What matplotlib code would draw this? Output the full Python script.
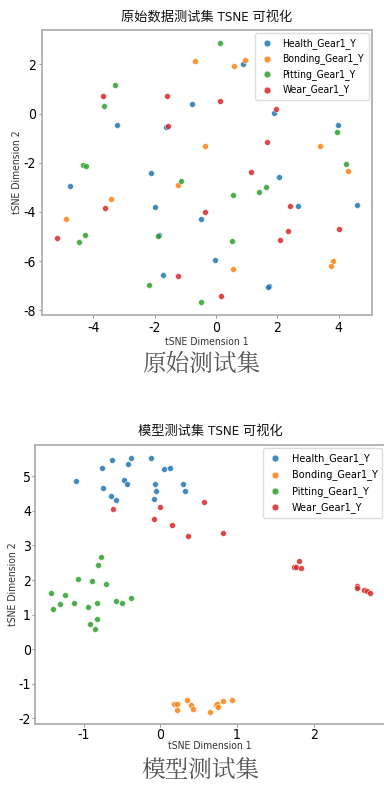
import matplotlib
matplotlib.use('Agg')
import matplotlib.pyplot as plt

plt.rcParams['font.family'] = ['DejaVu Sans', 'Noto Sans CJK SC']
plt.rcParams['font.stretch'] = 'condensed'
plt.rcParams['axes.unicode_minus'] = False

labels = ['Health_Gear1_Y', 'Bonding_Gear1_Y', 'Pitting_Gear1_Y', 'Wear_Gear1_Y']
colors = ['#1f77b4', '#ff7f0e', '#2ca02c', '#d62728']

# raw test set (tSNE coords)
raw_health_x = [0.88, -0.77, -3.23, -1.63, 1.90, 3.97, -2.13, -4.75, 2.05, -1.98, -0.50, 2.69, 4.59, -1.86, -0.02, -1.72, 1.73, 1.70]
raw_health_y = [2.01, 0.37, -0.45, -0.53, 0.04, -0.47, -2.41, -2.95, -2.60, -3.82, -4.31, -3.78, -3.71, -4.95, -5.94, -6.58, -7.02, -7.05]
raw_bond_x = [-0.69, 0.60, 0.94, -0.36, 3.38, 4.32, -1.24, -3.43, -4.90, 0.56, 3.83, 3.74]
raw_bond_y = [2.13, 1.95, 2.18, -1.33, -1.33, -2.34, -2.89, -3.48, -4.30, -6.33, -5.99, -6.22]
raw_pit_x = [0.14, -3.30, -3.66, -4.33, -4.24, -1.15, 0.57, 1.39, 1.62, 3.95, 4.25, -1.89, -4.26, -4.46, 0.52, -2.19, -0.49]
raw_pit_y = [2.87, 1.14, 0.31, -2.09, -2.13, -2.75, -3.33, -3.18, -2.99, -0.76, -2.07, -4.99, -4.95, -5.24, -5.20, -6.96, -7.67]
raw_wear_x = [-3.69, -1.58, 0.14, 1.96, -1.55, 1.66, 1.15, -3.63, -0.34, 2.41, 4.02, 2.35, 2.09, -5.19, -1.24, 0.17]
raw_wear_y = [0.70, 0.70, 0.50, 0.18, -0.49, -1.15, -2.36, -3.86, -4.01, -3.78, -4.69, -4.76, -5.16, -5.08, -6.61, -7.44]

# model test set
mod_health_x = [-1.10, -0.76, -0.63, -0.39, -0.42, -0.12, 0.04, 0.12, -0.47, -0.44, -0.75, -0.65, -0.58, -0.07, -0.06, -0.08, 0.30, 0.32]
mod_health_y = [4.86, 5.24, 5.47, 5.52, 5.35, 5.54, 5.20, 5.25, 4.90, 4.79, 4.66, 4.44, 4.32, 4.77, 4.59, 4.35, 4.78, 4.59]
mod_bond_x = [0.18, 0.22, 0.22, 0.35, 0.40, 0.43, 0.64, 0.73, 0.74, 0.75, 0.82, 0.93]
mod_bond_y = [-1.59, -1.58, -1.77, -1.47, -1.61, -1.73, -1.81, -1.61, -1.60, -1.69, -1.49, -1.46]
mod_pit_x = [-0.77, -0.81, -1.08, -0.90, -0.71, -1.43, -1.24, -0.39, -1.31, -1.13, -0.83, -0.58, -0.50, -1.40, -0.94, -0.83, -0.92, -0.86]
mod_pit_y = [2.68, 2.42, 2.02, 1.96, 1.88, 1.63, 1.57, 1.48, 1.31, 1.33, 1.34, 1.39, 1.34, 1.15, 1.21, 0.88, 0.73, 0.59]
mod_wear_x = [-0.62, 0.00, -0.08, 0.57, 0.15, 0.36, 0.82, 1.74, 1.77, 1.81, 1.84, 2.56, 2.57, 2.66, 2.70, 2.73]
mod_wear_y = [4.05, 4.11, 3.77, 4.25, 3.60, 3.26, 3.36, 2.37, 2.37, 2.56, 2.34, 1.83, 1.78, 1.72, 1.67, 1.61]


def draw_panel(ax, groups, title, ylabpad, xlabpad, tickpad, legfs, legspace):
    for (xs, ys), lab, c in zip(groups, labels, colors):
        ax.scatter(xs, ys, s=18, color=c, alpha=0.85, edgecolors='white', linewidths=0.4, label=lab)
    ax.set_title(title, fontsize=9.5, color='#111111', pad=7)
    ax.set_xlabel('tSNE Dimension 1', fontsize=7.5, color='#333333', labelpad=xlabpad)
    ax.set_ylabel('tSNE Dimension 2', fontsize=7.5, color='#333333', labelpad=ylabpad)
    ax.tick_params(labelsize=10, length=2, width=0.8, color='#999999', pad=tickpad, labelcolor='black')
    for sp in ax.spines.values():
        sp.set_color('#b0b0b0')
        sp.set_linewidth(1.3)
    ax.legend(loc='upper right', fontsize=legfs, markerscale=1.15, handlelength=1.4,
              handletextpad=0.8, borderpad=0.45, labelspacing=legspace, framealpha=1,
              edgecolor='#dddddd', borderaxespad=0.3)


fig = plt.figure(figsize=(3.84, 7.85), dpi=100)

ax1 = fig.add_axes([0.1086, 0.5987, 0.8594, 0.3631])
draw_panel(ax1, [(raw_health_x, raw_health_y), (raw_bond_x, raw_bond_y),
                 (raw_pit_x, raw_pit_y), (raw_wear_x, raw_wear_y)],
           '原始数据测试集 TSNE 可视化', 1, 2, 2, 7.5, 0.45)

ax2 = fig.add_axes([0.0911, 0.0773, 0.913, 0.3558])
draw_panel(ax2, [(mod_health_x, mod_health_y), (mod_bond_x, mod_bond_y),
                 (mod_pit_x, mod_pit_y), (mod_wear_x, mod_wear_y)],
           '模型测试集 TSNE 可视化', 0, -1, 1, 7.8, 0.5)

cap_fonts = ['Noto Serif CJK SC', 'Noto Sans CJK SC']
fig.text(0.523, 1 - 364 / 785, '原始测试集', ha='center', va='center', fontsize=17,
         color='#555555', family=cap_fonts, fontweight='light')
fig.text(0.523, 1 - 770 / 785, '模型测试集', ha='center', va='center', fontsize=17,
         color='#555555', family=cap_fonts, fontweight='light')

fig.savefig('out.png', dpi=100)
